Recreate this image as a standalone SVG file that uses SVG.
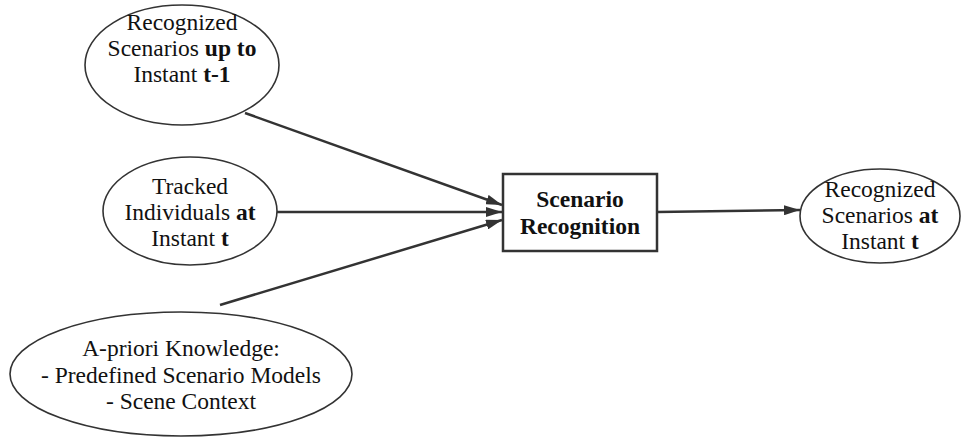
<svg xmlns="http://www.w3.org/2000/svg" width="962" height="439" viewBox="0 0 962 439">
<style>
  .node ellipse, .node rect { fill: #ffffff; stroke: #333333; stroke-width: 1.6; }
  .node rect { stroke-width: 2.5; }
  text { font-family: Liberation Serif, DejaVu Serif, serif; font-size: 23.5px; fill: #111111; text-anchor: middle; }
  .b { font-weight: bold; }
  .edge { stroke: #333333; stroke-width: 2.5; fill: none; marker-end: url(#arr); }
</style>
<defs>
  <marker id="arr" viewBox="0 0 16 10" refX="16" refY="5" markerWidth="16" markerHeight="10" markerUnits="userSpaceOnUse" orient="auto">
    <path d="M0,0 L16,5 L0,10 Z" fill="#333333"/>
  </marker>
</defs>
<rect width="962" height="439" fill="#ffffff"/>
<g id="connectors">
  <line class="edge" x1="245" y1="113" x2="502" y2="205"/>
  <line class="edge" x1="277" y1="212" x2="502" y2="212"/>
  <line class="edge" x1="220" y1="305" x2="502" y2="220"/>
  <line class="edge" x1="657" y1="212" x2="800" y2="210"/>
</g>
<g id="recognized-prev" class="node">
  <ellipse cx="182" cy="65" rx="97" ry="60"/>
  <text x="182" y="30">Recognized</text>
  <text x="182" y="56">Scenarios <tspan class="b">up to</tspan></text>
  <text x="182" y="82">Instant <tspan class="b">t-1</tspan></text>
</g>
<g id="tracked" class="node">
  <ellipse cx="190" cy="211" rx="87" ry="54"/>
  <text x="190" y="194">Tracked</text>
  <text x="190" y="220">Individuals <tspan class="b">at</tspan></text>
  <text x="190" y="246">Instant <tspan class="b">t</tspan></text>
</g>
<g id="apriori" class="node">
  <ellipse cx="181" cy="374" rx="171" ry="62"/>
  <text x="181" y="356">A-priori Knowledge:</text>
  <text x="181" y="383">- Predefined Scenario Models</text>
  <text x="181" y="409">- Scene Context</text>
</g>
<g id="scenario-recognition" class="node">
  <rect x="503" y="174" width="154" height="77"/>
  <text class="b" x="580" y="207">Scenario</text>
  <text class="b" x="580" y="234">Recognition</text>
</g>
<g id="recognized-now" class="node">
  <ellipse cx="880" cy="216" rx="80" ry="47"/>
  <text x="880" y="197">Recognized</text>
  <text x="880" y="223">Scenarios <tspan class="b">at</tspan></text>
  <text x="880" y="249">Instant <tspan class="b">t</tspan></text>
</g>
</svg>
